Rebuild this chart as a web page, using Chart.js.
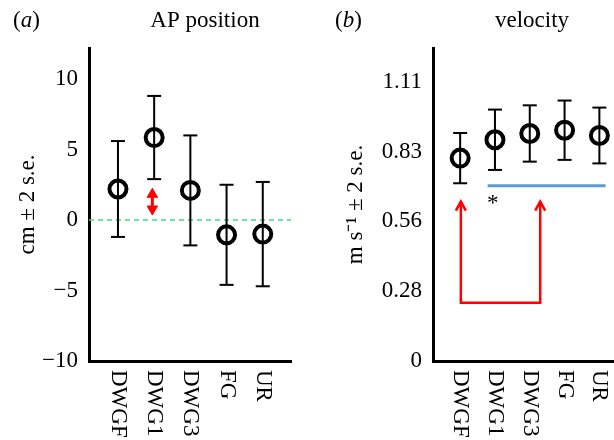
<!DOCTYPE html>
<html>
<head>
<meta charset="utf-8">
<script src="https://cdn.jsdelivr.net/npm/chart.js@4"></script>
<style>
  body { margin: 0; background: #fff; }
  #wrap { position: relative; width: 614px; height: 440px; overflow: hidden; }
  canvas { position: absolute; top: 0; }
  #chartA { left: 0; }
  #chartB { left: 307px; }
</style>
</head>
<body>
<div id="wrap">
  <canvas id="chartA" width="307" height="440"></canvas>
  <canvas id="chartB" width="307" height="440"></canvas>
</div>
<script>
const groups = ['DWGF', 'DWG1', 'DWG3', 'FG', 'UR']

// (a) AP position, cm, mean and 2 s.e.
const apMean = [2.2, 5.85, 2.1, -1.05, -1.0]
const apErr = [3.4, 2.95, 3.9, 3.55, 3.7]
const apTicks = [-10, -5, 0, 5, 10]
const apArrowX = 0.95
const apArrowY = [1.82, 0.78]

// (b) velocity, m/s, mean and 2 s.e.
const velMean = [0.807, 0.88, 0.905, 0.918, 0.897]
const velErr = [0.10, 0.12, 0.112, 0.118, 0.111]
const velTicks = [0, 0.2778, 0.5556, 0.8333, 1.1111]
const velTickLabels = ['0', '0.28', '0.56', '0.83', '1.11']
const sigLineX = [0.79, 4.18]
const sigLineY = 0.697
const starPos = [0.94, 0.644]
const bracketX = [0.02, 2.3]
const bracketY = [0.634, 0.232]

const FONT = '"Liberation Serif", "Times New Roman", serif'
const black = '#000'
const red = '#ff0000'
const blue = '#5b9bd5'
const green = '#3ee07a'

function errorBars(mean, err) {
  const pts = []
  mean.forEach((m, i) => {
    pts.push({x: i, y: m - err[i]}, {x: i, y: m + err[i]}, {x: i, y: null})
  })
  return pts
}

function meanPoints(mean) {
  return mean.map((m, i) => ({x: i, y: m}))
}

function circles(mean) {
  return {
    data: meanPoints(mean),
    pointStyle: 'circle',
    pointRadius: 8.5,
    pointBorderWidth: 4,
    pointBorderColor: black,
    pointBackgroundColor: 'rgba(0,0,0,0)'
  }
}

function bars(mean, err) {
  return {
    data: errorBars(mean, err),
    showLine: true,
    spanGaps: false,
    borderColor: black,
    borderWidth: 2,
    pointStyle: 'line',
    pointRadius: 7,
    pointBorderWidth: 2,
    pointBorderColor: black
  }
}

const groupLabels = {
  id: 'groupLabels',
  afterDraw(chart) {
    const {ctx, chartArea} = chart
    const x = chart.scales.x
    ctx.save()
    ctx.font = '23px ' + FONT
    ctx.fillStyle = black
    ctx.textAlign = 'left'
    ctx.textBaseline = 'middle'
    groups.forEach((g, i) => {
      ctx.save()
      ctx.translate(x.getPixelForValue(i), chartArea.bottom + 9)
      ctx.rotate(Math.PI / 2)
      ctx.fillText(g, 0, 0)
      ctx.restore()
    })
    ctx.restore()
  }
}

function panelTitle(letter, title, letterX, titleX) {
  return {
    id: 'panelTitle',
    afterDraw(chart) {
      const ctx = chart.ctx
      ctx.save()
      ctx.fillStyle = black
      ctx.textBaseline = 'alphabetic'
      ctx.font = '23px ' + FONT
      ctx.textAlign = 'center'
      ctx.fillText(title, titleX, 27)
      ctx.textAlign = 'left'
      let x = letterX
      ctx.fillText('(', x, 27)
      x += ctx.measureText('(').width
      ctx.font = 'italic 23px ' + FONT
      ctx.fillText(letter, x, 27)
      x += ctx.measureText(letter).width
      ctx.font = '23px ' + FONT
      ctx.fillText(')', x, 27)
      ctx.restore()
    }
  }
}

const bracketHeads = {
  id: 'bracketHeads',
  afterDatasetsDraw(chart) {
    const {ctx} = chart
    const {x, y} = chart.scales
    ctx.save()
    ctx.strokeStyle = red
    ctx.lineWidth = 2.5
    bracketX.forEach(v => {
      const px = x.getPixelForValue(v)
      const py = y.getPixelForValue(bracketY[0])
      ctx.beginPath()
      ctx.moveTo(px - 5, py + 9)
      ctx.lineTo(px, py)
      ctx.lineTo(px + 5, py + 9)
      ctx.stroke()
    })
    ctx.fillStyle = black
    ctx.font = '23px ' + FONT
    ctx.textAlign = 'center'
    ctx.textBaseline = 'alphabetic'
    ctx.fillText('*', x.getPixelForValue(starPos[0]), y.getPixelForValue(starPos[1]) + 11)
    ctx.restore()
  }
}

function axisOptions(xMin, xMax, yMin, yMax, yTicks, yLabel, yWidth, titlePad, tickPad, labelFn) {
  return {
    x: {
      type: 'linear',
      min: xMin,
      max: xMax,
      ticks: {display: false},
      grid: {display: false},
      border: {display: true, width: 3, color: black},
      afterFit: s => { s.height = 79 }
    },
    y: {
      type: 'linear',
      min: yMin,
      max: yMax,
      afterBuildTicks: s => { s.ticks = yTicks.map(v => ({value: v})) },
      ticks: {
        color: black,
        padding: tickPad,
        font: {family: FONT, size: 23},
        callback: labelFn
      },
      grid: {display: false},
      border: {display: true, width: 3, color: black},
      title: {
        display: true,
        text: yLabel,
        color: black,
        font: {family: FONT, size: 23},
        padding: {top: titlePad, bottom: 0}
      },
      afterFit: s => { s.width = yWidth }
    }
  }
}

const common = {
  responsive: false,
  devicePixelRatio: 1,
  animation: false,
  plugins: {legend: {display: false}, tooltip: {enabled: false}}
}

new Chart(document.getElementById('chartA'), {
  type: 'scatter',
  data: {
    datasets: [
      circles(apMean),
      bars(apMean, apErr),
      {
        data: [{x: -0.8, y: 0}, {x: 4.78, y: 0}],
        showLine: true,
        borderColor: green,
        borderWidth: 1.5,
        borderDash: [5, 4],
        pointRadius: 0
      },
      {
        data: apArrowY.map(v => ({x: apArrowX, y: v})),
        showLine: true,
        borderColor: red,
        borderWidth: 3,
        pointStyle: 'triangle',
        pointRadius: 6,
        pointRotation: [0, 180],
        pointBackgroundColor: red,
        pointBorderColor: red,
        pointBorderWidth: 1
      }
    ]
  },
  options: {
    ...common,
    layout: {autoPadding: false, padding: {top: 48, right: 16, left: 0, bottom: 0}},
    scales: axisOptions(-0.8, 4.78, -10, 12.2, apTicks, 'cm \u00b1 2 s.e.', 89, 14, 3,
      v => v < 0 ? '\u2212' + Math.abs(v) : String(v))
  },
  plugins: [groupLabels, panelTitle('a', 'AP position', 13, 205)]
})

new Chart(document.getElementById('chartB'), {
  type: 'scatter',
  data: {
    datasets: [
      circles(velMean),
      bars(velMean, velErr),
      {
        data: sigLineX.map(v => ({x: v, y: sigLineY})),
        showLine: true,
        borderColor: blue,
        borderWidth: 3,
        pointRadius: 0
      },
      {
        data: [
          {x: bracketX[0], y: bracketY[0]},
          {x: bracketX[0], y: bracketY[1]},
          {x: bracketX[1], y: bracketY[1]},
          {x: bracketX[1], y: bracketY[0]}
        ],
        showLine: true,
        borderColor: red,
        borderWidth: 2.5,
        borderJoinStyle: 'miter',
        pointRadius: 0
      }
    ]
  },
  options: {
    ...common,
    layout: {autoPadding: false, padding: {top: 48, right: 0, left: 0, bottom: 0}},
    scales: axisOptions(-0.78, 4.42, 0, 1.245, velTicks, 'm s\u207b\u00b9 \u00b1 2 s.e.', 126, 35, 3,
      (v, i) => velTickLabels[i])
  },
  plugins: [groupLabels, bracketHeads, panelTitle('b', 'velocity', 28, 225)]
})
</script>
</body>
</html>
